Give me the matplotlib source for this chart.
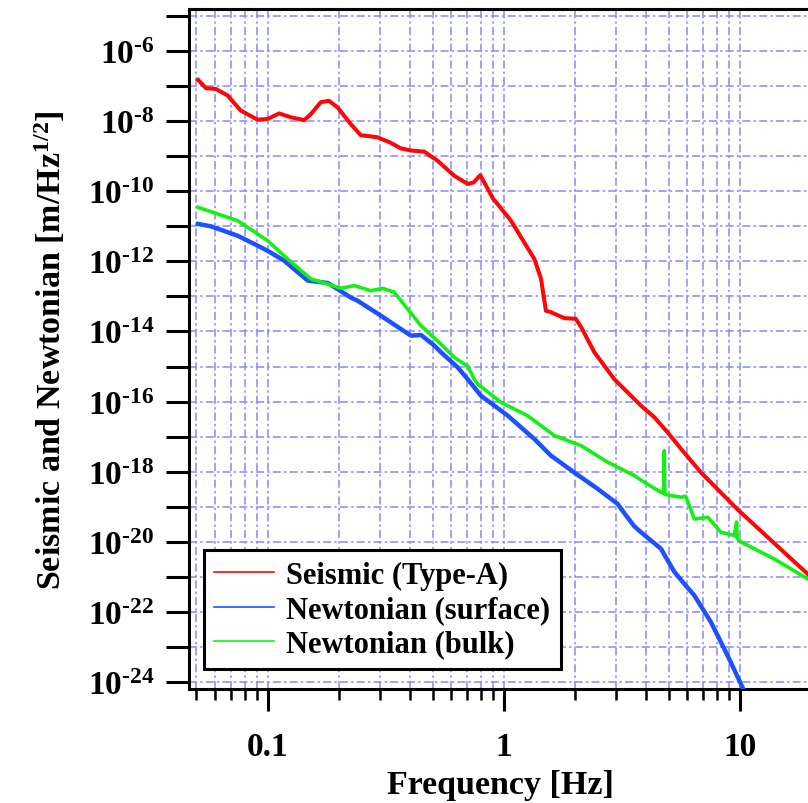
import numpy as np
import matplotlib
matplotlib.use('Agg')
import matplotlib.pyplot as plt
from matplotlib.ticker import FixedLocator, FixedFormatter, LogLocator, NullFormatter, NullLocator, FuncFormatter

plt.rcParams['font.family'] = ['Liberation Serif', 'DejaVu Serif']
plt.rcParams['font.weight'] = 'bold'
plt.rcParams['mathtext.fontset'] = 'custom'
plt.rcParams['mathtext.rm'] = 'Liberation Serif:bold'
plt.rcParams['mathtext.bf'] = 'Liberation Serif:bold'
plt.rcParams['mathtext.it'] = 'Liberation Serif:bold:italic'

# ---- data ----
seismic_freq = [0.0508, 0.0548, 0.0604, 0.0677, 0.077, 0.0907, 0.1, 0.112, 0.1255, 0.143,
                0.1525, 0.168, 0.182, 0.198, 0.225, 0.248, 0.292, 0.333, 0.367, 0.405,
                0.461, 0.525, 0.618, 0.704, 0.746, 0.796, 0.90, 1.074, 1.222, 1.349,
                1.44, 1.51, 1.585, 1.807, 2.02, 2.13, 2.42, 2.94, 3.82, 4.35,
                4.95, 5.64, 6.85, 9.8, 19.4, 20.5]
seismic_asd = [1.51e-7, 8.7e-8, 8.3e-8, 5.4e-8, 2.0e-8, 1.1e-8, 1.15e-8, 1.66e-8, 1.29e-8, 1.07e-8,
               1.58e-8, 3.47e-8, 3.8e-8, 2.45e-8, 8.3e-9, 3.98e-9, 3.47e-9, 2.4e-9, 1.66e-9, 1.45e-9,
               1.35e-9, 7.4e-10, 2.75e-10, 1.62e-10, 1.78e-10, 2.88e-10, 6.3e-11, 1.45e-11, 3.47e-12, 1.17e-12,
               3.16e-13, 3.9e-14, 3.55e-14, 2.4e-14, 2.3e-14, 1.32e-14, 2.57e-15, 4.37e-16, 7.6e-17, 3.55e-17,
               1.32e-17, 4.47e-18, 9.5e-19, 8.3e-20, 1.2e-21, 7.9e-22]

surface_freq = [0.0508, 0.0575, 0.0746, 0.0907, 0.1, 0.1175, 0.148, 0.165, 0.18, 0.198,
                0.225, 0.24, 0.302, 0.367, 0.405, 0.447, 0.508, 0.542, 0.638, 0.704,
                0.80, 1.04, 1.35, 1.585, 1.99, 2.5, 3.04, 3.3, 3.57, 3.82,
                4.64, 4.79, 5.28, 5.82, 6.42, 7.55, 8.89, 9.96, 10.5]
surface_asd = [1.17e-11, 1.0e-11, 5.4e-12, 2.82e-12, 2.0e-12, 1.05e-12, 2.82e-13, 2.6e-13, 2.4e-13, 1.62e-13,
               9.3e-14, 7.6e-14, 2.82e-14, 1.17e-14, 7.6e-15, 7.9e-15, 3.98e-15, 2.57e-15, 9.5e-16, 4.37e-16,
               1.48e-16, 3.98e-17, 8.5e-18, 2.88e-18, 9.5e-19, 3.24e-19, 1.2e-19, 5.6e-20, 2.8e-20, 1.86e-20,
               6.3e-21, 4.3e-21, 1.4e-21, 6.3e-22, 2.95e-22, 5.1e-23, 5.6e-24, 1.1e-24, 5e-25]

bulk_freq = [0.0508, 0.0746, 0.1, 0.1216, 0.1525, 0.18, 0.2047, 0.233, 0.274, 0.307,
             0.3436, 0.392, 0.447, 0.542, 0.618, 0.681, 0.703, 0.75, 0.776, 0.975,
             1.26, 1.64, 2.13, 2.76, 3.57, 3.94, 4.64, 4.76, 4.79, 4.82,
             5.64, 5.9, 6.42, 7.32, 8.33, 9.49, 9.7, 9.75, 10.15, 14.0,
             19.4, 20.5]
bulk_asd = [3.47e-11, 1.45e-11, 3.9e-12, 1.17e-12, 3.16e-13, 2.24e-13, 1.7e-13, 2.04e-13, 1.45e-13, 1.7e-13,
            1.32e-13, 4.37e-14, 1.45e-14, 4.37e-15, 1.82e-15, 1.17e-15, 1.05e-15, 4.37e-16, 3.16e-16, 9.5e-17,
            3.98e-17, 1.07e-17, 5.5e-18, 1.86e-18, 7.8e-19, 5.0e-19, 2.57e-19, 2.4e-19, 3.98e-18, 2.24e-19,
            1.86e-19, 2.0e-19, 4.47e-20, 5.0e-20, 1.86e-20, 1.51e-20, 3.63e-20, 1.26e-20, 9.8e-21, 3.24e-21,
            8.7e-22, 7.6e-22]

series_labels = ['Seismic (Type-A)', 'Newtonian (surface)', 'Newtonian (bulk)']
x_tick_values = [0.1, 1, 10]
x_tick_labels = ['0.1', '1', '10']
y_exponents = list(range(-24, -4))

# ---- figure ----
fig = plt.figure(figsize=(8.08, 8.04), dpi=100)
ax = fig.add_axes([0.2345, 0.1418, 0.769, 0.8458])
ax.set_xscale('log')
ax.set_yscale('log')
ax.set_xlim(0.0467, 20.0)
ax.set_ylim(10 ** -24.2, 10 ** -4.8)

ax.plot(seismic_freq, seismic_asd, color='#ff0505', lw=2.9, label=series_labels[0], zorder=3)
ax.plot(surface_freq, surface_asd, color='#1e50ff', lw=3.2, label=series_labels[1], zorder=3)
ax.plot(bulk_freq, bulk_asd, color='#14f014', lw=2.6, label=series_labels[2], zorder=3)

# ticks
ax.xaxis.set_major_locator(FixedLocator(x_tick_values))
ax.xaxis.set_major_formatter(FixedFormatter(x_tick_labels))
ax.xaxis.set_minor_locator(LogLocator(base=10, subs=np.arange(2, 10), numticks=20))
ax.xaxis.set_minor_formatter(NullFormatter())

ax.yaxis.set_major_locator(FixedLocator([10.0 ** e for e in y_exponents]))
def yfmt(v, pos):
    e = int(round(np.log10(v)))
    return r'$10^{\text{-%d}}$' % (-e) if e % 2 == 0 else ''
ax.yaxis.set_major_formatter(FuncFormatter(yfmt))
ax.yaxis.set_minor_locator(NullLocator())

ax.tick_params(axis='y', which='major', direction='out', length=16.5, width=2.2,
               labelsize=24, pad=9, right=False)
ax.tick_params(axis='x', which='major', direction='out', length=16, width=2.2,
               labelsize=24, pad=14, top=False)
ax.tick_params(axis='x', which='minor', direction='out', length=8, width=1.8, top=False)

# grid
grid_kw = dict(color='#8c8cff', lw=1.15, ls=(0, (5, 2, 1.5, 2)))
ax.grid(True, which='major', axis='both', **grid_kw)
ax.grid(True, which='minor', axis='x', **grid_kw)
ax.set_axisbelow(True)

for side in ['top', 'left', 'bottom']:
    ax.spines[side].set_linewidth(2.2)
ax.spines['right'].set_visible(False)

ax.set_xlabel('Frequency [Hz]', fontsize=24.5, fontweight='bold', labelpad=5)
ax.set_ylabel(r'Seismic and Newtonian [m/Hz$^{\text{1/2}}$]', fontsize=24.5,
              fontweight='bold', labelpad=14)

leg = ax.legend(loc='lower left', bbox_to_anchor=(0.023, 0.029), borderaxespad=0,
                prop={'family': 'Liberation Serif', 'weight': 'bold', 'size': 22},
                frameon=True, fancybox=False, edgecolor='black', framealpha=1,
                borderpad=0.35, handlelength=1.95, handletextpad=0.4, labelspacing=0.17)
leg.get_frame().set_linewidth(2.2)
for h in leg.legend_handles:
    h.set_linewidth(1.2)

fig.savefig('out.png', dpi=100)
